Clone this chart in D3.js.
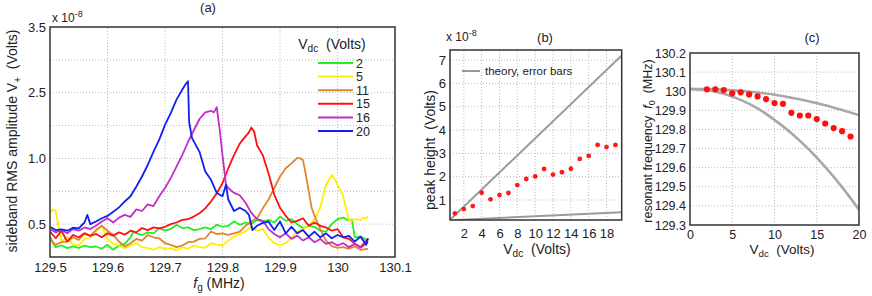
<!DOCTYPE html>
<html>
<head>
<meta charset="utf-8">
<script src="https://d3js.org/d3.v7.min.js"></script>
<style>
body { margin: 0; background: #fff; }
svg { font-family: "Liberation Sans", Arial, sans-serif; }
</style>
</head>
<body>
<svg id="chart" width="872" height="296"></svg>
<script>
// ---- panel (a): sideband spectra, y in grid units (labels are the odd ones printed on the figure)
var ampTickVals = [1, 3, 5, 7];
var ampTickLabels = ["0.5", "1.0", "2.5", "3.5"];
var freqTicks = [129.5, 129.6, 129.7, 129.8, 129.9, 130, 130.1];
var legendKeys = ["2", "5", "11", "15", "16", "20"];
var legendColors = ["#22ee22", "#ffee00", "#e0862a", "#ff1010", "#c030c8", "#1020f0"];

var curveV2 = [[129.50,0.57],[129.51,0.30],[129.52,0.35],[129.53,0.27],[129.54,0.32],[129.55,0.28],[129.56,0.35],[129.57,0.30],[129.58,0.32],[129.59,0.25],[129.60,0.37],[129.61,0.22],[129.62,0.35],[129.63,0.40],[129.64,0.60],[129.645,0.77],[129.65,0.72],[129.66,0.67],[129.67,0.75],[129.68,0.72],[129.69,0.88],[129.70,0.80],[129.71,0.85],[129.72,0.98],[129.73,0.88],[129.74,0.90],[129.75,0.82],[129.76,0.85],[129.77,0.90],[129.78,0.85],[129.79,0.98],[129.80,0.92],[129.81,0.95],[129.82,1.08],[129.83,0.98],[129.84,1.05],[129.85,1.00],[129.86,1.13],[129.87,1.08],[129.88,1.13],[129.89,1.05],[129.90,1.23],[129.91,1.10],[129.92,1.15],[129.93,1.00],[129.94,0.88],[129.95,0.95],[129.96,0.92],[129.97,0.80],[129.98,0.77],[129.99,1.00],[130.00,1.15],[130.01,1.20],[130.02,1.10],[130.025,1.15],[130.03,0.60],[130.04,0.62],[130.053,0.50]];

var curveV5 = [[129.50,1.35],[129.505,1.45],[129.51,1.40],[129.515,0.90],[129.52,0.47],[129.53,0.60],[129.54,0.37],[129.55,0.35],[129.56,0.55],[129.57,0.60],[129.58,0.77],[129.59,0.95],[129.60,0.55],[129.61,0.40],[129.62,0.35],[129.63,0.27],[129.64,0.35],[129.65,0.42],[129.66,0.30],[129.67,0.27],[129.68,0.22],[129.69,0.30],[129.70,0.25],[129.71,0.27],[129.72,0.20],[129.73,0.30],[129.74,0.25],[129.75,0.35],[129.76,0.30],[129.77,0.28],[129.78,0.42],[129.79,0.38],[129.80,0.35],[129.81,0.50],[129.82,0.62],[129.83,0.70],[129.84,0.77],[129.85,0.93],[129.86,0.80],[129.87,0.85],[129.88,0.60],[129.89,0.42],[129.90,0.37],[129.91,0.42],[129.92,0.60],[129.93,0.77],[129.94,0.85],[129.95,0.95],[129.96,1.15],[129.97,1.50],[129.98,2.20],[129.99,2.50],[129.995,2.38],[130.00,2.20],[130.01,1.85],[130.015,1.48],[130.02,1.10],[130.03,1.15],[130.04,1.12],[130.045,1.20],[130.05,1.18],[130.053,1.23]];

var curveV11 = [[129.50,0.62],[129.505,0.45],[129.51,0.37],[129.52,0.45],[129.53,0.47],[129.54,0.60],[129.55,0.52],[129.56,0.72],[129.57,0.65],[129.58,0.82],[129.59,0.95],[129.60,0.80],[129.61,0.67],[129.62,0.47],[129.63,0.32],[129.64,0.42],[129.65,0.55],[129.66,0.50],[129.67,0.67],[129.68,0.60],[129.69,0.57],[129.70,0.42],[129.71,0.37],[129.72,0.30],[129.73,0.35],[129.74,0.45],[129.75,0.47],[129.76,0.55],[129.77,0.57],[129.78,0.77],[129.79,0.70],[129.80,0.72],[129.81,0.67],[129.82,0.72],[129.83,0.77],[129.84,0.95],[129.85,1.08],[129.86,1.18],[129.87,1.48],[129.88,1.75],[129.89,2.10],[129.90,2.45],[129.91,2.70],[129.92,2.85],[129.93,3.02],[129.935,3.00],[129.94,2.95],[129.945,2.50],[129.95,2.00],[129.955,1.50],[129.96,1.25],[129.97,0.85],[129.98,0.50],[129.99,0.33],[130.00,0.28],[130.01,0.30],[130.02,0.25],[130.03,0.32],[130.04,0.22],[130.053,0.25]];

var curveV15 = [[129.50,0.77],[129.51,0.57],[129.52,0.80],[129.53,0.47],[129.54,0.67],[129.55,0.60],[129.56,0.72],[129.57,0.64],[129.58,0.70],[129.59,0.60],[129.60,0.72],[129.61,0.65],[129.62,0.75],[129.63,0.68],[129.64,0.80],[129.65,0.75],[129.66,0.88],[129.67,0.82],[129.68,0.90],[129.69,0.87],[129.70,0.92],[129.71,1.00],[129.72,1.05],[129.73,1.13],[129.74,1.15],[129.75,1.23],[129.76,1.33],[129.77,1.48],[129.78,1.69],[129.79,1.94],[129.80,2.25],[129.81,2.70],[129.82,3.10],[129.83,3.45],[129.84,3.67],[129.845,3.77],[129.85,3.94],[129.855,3.82],[129.86,3.40],[129.87,3.10],[129.88,2.55],[129.89,1.90],[129.90,1.50],[129.91,1.25],[129.92,1.05],[129.93,1.10],[129.94,1.18],[129.95,0.95],[129.96,1.05],[129.97,0.95],[129.98,0.90],[129.99,0.80],[130.00,0.85],[130.01,0.60],[130.02,0.55],[130.03,0.40],[130.04,0.30],[130.053,0.55]];

var curveV16 = [[129.50,0.85],[129.51,0.75],[129.52,0.82],[129.53,0.72],[129.54,0.85],[129.55,0.80],[129.56,0.90],[129.57,0.85],[129.58,0.95],[129.59,1.08],[129.60,1.18],[129.61,1.05],[129.62,1.20],[129.63,1.28],[129.64,1.22],[129.65,1.45],[129.66,1.40],[129.67,1.60],[129.68,1.55],[129.69,1.85],[129.70,2.10],[129.71,2.40],[129.72,2.75],[129.73,3.10],[129.74,3.50],[129.75,3.85],[129.76,4.20],[129.77,4.40],[129.78,4.45],[129.785,4.40],[129.79,4.56],[129.795,3.90],[129.80,3.10],[129.806,2.20],[129.81,2.10],[129.82,1.95],[129.83,1.88],[129.84,1.65],[129.85,1.35],[129.86,1.15],[129.87,1.10],[129.88,0.85],[129.89,0.70],[129.90,0.60],[129.91,0.72],[129.92,0.55],[129.93,0.65],[129.94,0.50],[129.95,0.60],[129.96,0.45],[129.97,0.55],[129.98,0.40],[129.99,0.45],[130.00,0.35],[130.01,0.42],[130.02,0.30],[130.03,0.40],[130.04,0.28],[130.053,0.45]];

var curveV20 = [[129.50,0.92],[129.51,0.82],[129.52,0.84],[129.53,0.80],[129.54,0.89],[129.55,0.87],[129.56,1.05],[129.565,1.28],[129.57,1.00],[129.58,1.08],[129.59,1.18],[129.60,1.25],[129.61,1.38],[129.62,1.51],[129.63,1.69],[129.64,1.85],[129.65,2.14],[129.66,2.45],[129.67,2.80],[129.68,3.21],[129.69,3.57],[129.70,4.02],[129.71,4.38],[129.72,4.79],[129.73,5.09],[129.735,5.24],[129.74,5.35],[129.742,4.10],[129.747,3.62],[129.76,3.20],[129.77,2.60],[129.78,2.35],[129.79,1.95],[129.80,1.85],[129.806,2.20],[129.81,1.75],[129.82,1.40],[129.83,1.50],[129.84,1.40],[129.846,1.28],[129.852,0.82],[129.86,0.95],[129.87,1.04],[129.88,1.08],[129.89,0.82],[129.90,1.08],[129.91,0.72],[129.92,0.92],[129.93,0.72],[129.94,0.82],[129.95,0.62],[129.96,0.77],[129.97,0.60],[129.98,0.72],[129.99,0.57],[130.00,0.67],[130.01,0.60],[130.02,0.64],[130.03,0.47],[130.04,0.62],[130.05,0.37],[130.053,0.57]];

var curves = [curveV2, curveV5, curveV11, curveV15, curveV16, curveV20];

// ---- panel (b): peak height vs Vdc (x 1e-8 V)
var peakVdc = [1, 2, 3, 4, 5, 6, 7, 8, 9, 10, 11, 12, 13, 14, 15, 16, 17, 18, 19];
var peakHeight = [0.43, 0.61, 0.74, 1.31, 1.03, 1.21, 1.30, 1.64, 1.90, 2.01, 2.33, 2.09, 2.19, 2.34, 2.76, 2.89, 3.36, 3.27, 3.36];
var theoryHigh = [[0.45, 0.15], [19.7, 7.2]];
var theoryLow = [[1.0, 0.14], [19.7, 0.47]];
var peakXTicks = [2, 4, 6, 8, 10, 12, 14, 16, 18];
var peakYTicks = [1, 2, 3, 4, 5, 6, 7];

// ---- panel (c): resonant frequency vs Vdc
var resVdc = [2, 3, 4, 5, 6, 7, 8, 9, 10, 11, 12, 13, 14, 15, 16, 17, 18, 19];
var resFreq = [130.010, 130.010, 130.006, 129.989, 129.994, 129.983, 129.973, 129.959, 129.938, 129.934, 129.887, 129.873, 129.873, 129.854, 129.831, 129.807, 129.791, 129.763];
var theoryVdc = [0, 2, 4, 6, 8, 10, 12, 14, 16, 18, 20];
var theoryUpper = [130.012, 130.011, 130.008, 130.002, 129.993, 129.982, 129.966, 129.948, 129.927, 129.902, 129.875];
var theoryLower = [130.012, 130.006, 129.987, 129.955, 129.910, 129.850, 129.780, 129.698, 129.604, 129.498, 129.380];
var resXTicks = [0, 5, 10, 15, 20];
var resYTicks = [129.3, 129.4, 129.5, 129.6, 129.7, 129.8, 129.9, 130, 130.1, 130.2];

var svg = d3.select("#chart");

function drawGrid(g, x, y, xTicks, yTicks) {
    var x0 = x.range()[0], x1 = x.range()[1], y0 = y.range()[0], y1 = y.range()[1];
    g.append("g").selectAll("line").data(xTicks).join("line")
        .attr("x1", d => x(d)).attr("x2", d => x(d)).attr("y1", y0).attr("y2", y1)
        .attr("stroke", "#bbb").attr("stroke-width", 1).attr("stroke-dasharray", "1,2");
    g.append("g").selectAll("line").data(yTicks).join("line")
        .attr("x1", x0).attr("x2", x1).attr("y1", d => y(d)).attr("y2", d => y(d))
        .attr("stroke", "#bbb").attr("stroke-width", 1).attr("stroke-dasharray", "1,2");
}

// tick labels only: xBase = baseline below the plot bottom, yGap = gap left of the plot
function drawAxes(g, x, y, xTicks, yTicks, xFmt, yFmt, xBase, yGap, size) {
    var y0 = y.range()[0], x0 = x.range()[0];
    var ax = g.append("g").attr("transform", "translate(0," + y0 + ")")
        .call(d3.axisBottom(x).tickValues(xTicks).tickSize(0).tickFormat(xFmt));
    var ay = g.append("g").attr("transform", "translate(" + x0 + ",0)")
        .call(d3.axisLeft(y).tickValues(yTicks).tickSize(0).tickFormat(yFmt));
    [ax, ay].forEach(function (a) {
        a.select(".domain").remove();
        a.selectAll("text").attr("font-size", size).attr("fill", "#222").attr("font-family", "Liberation Sans, Arial, sans-serif");
    });
    ax.selectAll("text").attr("y", xBase).attr("dy", 0);
    ay.selectAll("text").attr("x", -yGap);
}

function drawBox(g, x, y) {
    g.append("rect")
        .attr("x", x.range()[0]).attr("y", y.range()[1])
        .attr("width", x.range()[1] - x.range()[0]).attr("height", y.range()[0] - y.range()[1])
        .attr("fill", "none").attr("stroke", "#333").attr("stroke-width", 1.5);
}

function clipFor(id, x, y) {
    svg.append("clipPath").attr("id", id).append("rect")
        .attr("x", x.range()[0]).attr("y", y.range()[1])
        .attr("width", x.range()[1] - x.range()[0]).attr("height", y.range()[0] - y.range()[1]);
    return "url(#" + id + ")";
}

// Vdc (Volts) label with subscript
function vdcLabel(g, cx, y, size) {
    var t = g.append("text").attr("x", cx).attr("y", y).attr("text-anchor", "middle")
        .attr("font-size", size).attr("fill", "#222");
    t.append("tspan").text("V");
    t.append("tspan").attr("dy", 3).attr("font-size", size * 0.72).text("dc");
    t.append("tspan").attr("dy", -3).text("\u00a0 (Volts)");
    return t;
}

function expLabel(g, x, y) {
    var t = g.append("text").attr("x", x).attr("y", y).attr("font-size", 12).attr("fill", "#222");
    t.append("tspan").text("x 10");
    t.append("tspan").attr("dy", -5).attr("font-size", 9).text("-8");
}

// ================= panel (a)
var xA = d3.scaleLinear().domain([129.5, 130.1]).range([50, 395]);
var yA = d3.scaleLinear().domain([0, 7]).range([257, 27]);
var gA = svg.append("g");
drawGrid(gA, xA, yA, freqTicks.slice(1, -1), [1, 2, 3, 4, 5, 6]);
drawAxes(gA, xA, yA, freqTicks, ampTickVals, d => +d.toFixed(1), (d, i) => ampTickLabels[i], 15, 4, 13);

var lineA = d3.line().x(d => xA(d[0])).y(d => yA(d[1]));
gA.append("g").attr("clip-path", clipFor("clipA", xA, yA))
    .selectAll("path").data(curves).join("path")
    .attr("d", lineA).attr("fill", "none")
    .attr("stroke", (d, i) => legendColors[i]).attr("stroke-width", 1.8)
    .attr("stroke-linejoin", "round");
drawBox(gA, xA, yA);

// legend
vdcLabel(gA, 332, 49, 14);
var leg = gA.append("g").selectAll("g").data(legendKeys).join("g")
    .attr("transform", (d, i) => "translate(0," + (63 + i * 13.6) + ")");
leg.append("line").attr("x1", 318).attr("x2", 353).attr("stroke", (d, i) => legendColors[i]).attr("stroke-width", 2);
leg.append("text").attr("x", 356).attr("dy", "0.36em").attr("font-size", 12.5).attr("fill", "#222").text(d => d);

expLabel(gA, 52, 22);
gA.append("text").attr("x", 208).attr("y", 12).attr("text-anchor", "middle").attr("font-size", 13).attr("fill", "#222").text("(a)");

var xlabA = gA.append("text").attr("x", 219).attr("y", 288).attr("text-anchor", "middle").attr("font-size", 14).attr("fill", "#222");
xlabA.append("tspan").attr("font-style", "italic").text("f");
xlabA.append("tspan").attr("dy", 3).attr("font-size", 10).text("g");
xlabA.append("tspan").attr("dy", -3).text(" (MHz)");

var ylabA = gA.append("text").attr("transform", "translate(17,141) rotate(-90)")
    .attr("text-anchor", "middle").attr("font-size", 14).attr("fill", "#222");
ylabA.append("tspan").text("sideband RMS amplitude V");
ylabA.append("tspan").attr("dy", 4).attr("font-size", 10).text("+");
ylabA.append("tspan").attr("dy", -4).text("\u00a0 (Volts)");

// ================= panel (b)
var xB = d3.scaleLinear().domain([0.45, 19.7]).range([450, 621.7]);
var yB = d3.scaleLinear().domain([0.143, 7.43]).range([220, 50]);
var gB = svg.append("g");
drawGrid(gB, xB, yB, peakXTicks, peakYTicks);
drawAxes(gB, xB, yB, peakXTicks, peakYTicks, d => d, d => d, 18, 4, 13);

var lineB = d3.line().x(d => xB(d[0])).y(d => yB(d[1]));
var plotB = gB.append("g").attr("clip-path", clipFor("clipB", xB, yB));
plotB.selectAll("path").data([theoryHigh, theoryLow]).join("path")
    .attr("d", lineB).attr("fill", "none").attr("stroke", "#9a9a9a").attr("stroke-width", 2);
plotB.selectAll("circle").data(peakVdc).join("circle")
    .attr("cx", d => xB(d)).attr("cy", (d, i) => yB(peakHeight[i])).attr("r", 2.4).attr("fill", "#ff1a1a");
drawBox(gB, xB, yB);

gB.append("line").attr("x1", 462).attr("x2", 480).attr("y1", 71).attr("y2", 71).attr("stroke", "#9a9a9a").attr("stroke-width", 2);
gB.append("text").attr("x", 485).attr("y", 75).attr("font-size", 11.5).attr("fill", "#222").text("theory, error bars");

expLabel(gB, 446, 41);
gB.append("text").attr("x", 545).attr("y", 42).attr("text-anchor", "middle").attr("font-size", 13).attr("fill", "#222").text("(b)");
vdcLabel(gB, 537, 254, 14);
gB.append("text").attr("transform", "translate(435,150) rotate(-90)")
    .attr("text-anchor", "middle").attr("font-size", 14).attr("fill", "#222").text("peak height\u00a0 (Volts)");

// ================= panel (c)
var xC = d3.scaleLinear().domain([0, 20]).range([690, 859]);
var yC = d3.scaleLinear().domain([129.3, 130.2]).range([225, 53]);
var gC = svg.append("g");
drawGrid(gC, xC, yC, [5, 10, 15], resYTicks.slice(1, -1));
drawAxes(gC, xC, yC, resXTicks, resYTicks, d => d, d => +d.toFixed(1), 14, 4, 12.5);

var lineC = d3.line().curve(d3.curveMonotoneX).x((d, i) => xC(theoryVdc[i])).y(d => yC(d));
var plotC = gC.append("g").attr("clip-path", clipFor("clipC", xC, yC));
plotC.selectAll("path").data([theoryUpper, theoryLower]).join("path")
    .attr("d", lineC).attr("fill", "none").attr("stroke", "#a8a8a8").attr("stroke-width", 2.6);
plotC.selectAll("circle").data(resVdc).join("circle")
    .attr("cx", d => xC(d)).attr("cy", (d, i) => yC(resFreq[i])).attr("r", 3.1).attr("fill", "#ff1010");
drawBox(gC, xC, yC);

gC.append("text").attr("x", 812).attr("y", 42).attr("text-anchor", "middle").attr("font-size", 13).attr("fill", "#222").text("(c)");
vdcLabel(gC, 782, 254, 13.5);
var ylabC = gC.append("text").attr("transform", "translate(652,141) rotate(-90)")
    .attr("text-anchor", "middle").attr("font-size", 12.5).attr("fill", "#222");
ylabC.append("tspan").text("resonant frequency\u00a0 ");
ylabC.append("tspan").attr("font-style", "italic").text("f");
ylabC.append("tspan").attr("dy", 3).attr("font-size", 9).text("0");
ylabC.append("tspan").attr("dy", -3).text("\u00a0 (MHz)");
</script>
</body>
</html>
